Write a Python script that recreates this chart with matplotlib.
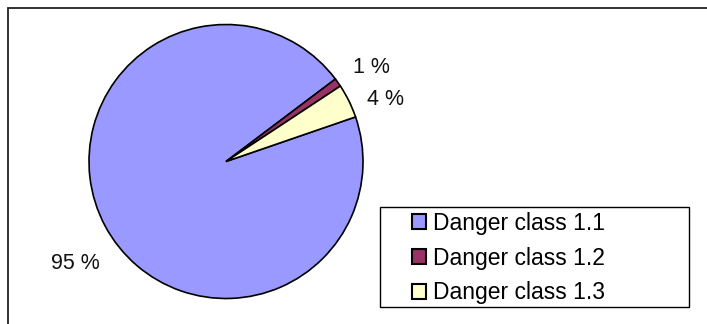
import matplotlib
matplotlib.use("Agg")
import matplotlib.pyplot as plt
import numpy as np
from matplotlib.patches import Rectangle

plt.rcParams["font.family"] = ["Liberation Sans", "DejaVu Sans"]

categories = ["Danger class 1.1", "Danger class 1.2", "Danger class 1.3"]
shares = [95, 1, 4]
colors = ["#9999FF", "#993366", "#FFFFCC"]
# label nudges (px) away from the rim point, like Excel places them
label_dx = [-5, 15, 18]
label_dy = [-35, 18, 4]

W, H = 707, 324
fig = plt.figure(figsize=(W / 100, H / 100), dpi=100)

# outer chart frame (runs off the right and bottom edges)
fig.patches.append(Rectangle((8 / W, -0.1), 1.1, 1 - 8 / H + 0.1, transform=fig.transFigure,
                             fill=False, edgecolor="#222222", linewidth=1.3))

cx, cy, r = 226, 161.5, 137
ax = fig.add_axes([(cx - r) / W, (H - cy - r) / H, 2 * r / W, 2 * r / H])
wedges, _ = ax.pie(shares, colors=colors, startangle=19, counterclock=False,
                   wedgeprops=dict(edgecolor="black", linewidth=1.2))
ax.set_xlim(-1, 1)
ax.set_ylim(-1, 1)
ax.set_aspect("equal")
ax.axis("off")

for w, v, dx, dy in zip(wedges, shares, label_dx, label_dy):
    ang = np.deg2rad((w.theta1 + w.theta2) / 2)
    x, y = np.cos(ang), np.sin(ang)
    ax.annotate("{} %".format(v), xy=(x, y), xytext=(dx * 0.72, dy * 0.72),
                textcoords="offset points", ha="left" if dx > 0 else "right",
                va="center_baseline", fontsize=15.5, color="#111111")

# legend box
fig.patches.append(Rectangle((380 / W, 1 - 307 / H), (689 - 380) / W, (307 - 207) / H,
                             transform=fig.transFigure, fill=False,
                             edgecolor="black", linewidth=1.0))
leg = fig.legend(wedges, categories, loc="center left",
                 bbox_to_anchor=(412 / W, 1 - 258 / H), bbox_transform=fig.transFigure,
                 frameon=False, borderpad=0, borderaxespad=0, fontsize=16.5,
                 handlelength=0.62, handleheight=0.62, handletextpad=0.28,
                 labelspacing=0.52)
for h in leg.legend_handles:
    h.set_edgecolor("black")
    h.set_linewidth(1.5)

fig.savefig("out.png", dpi=100)
